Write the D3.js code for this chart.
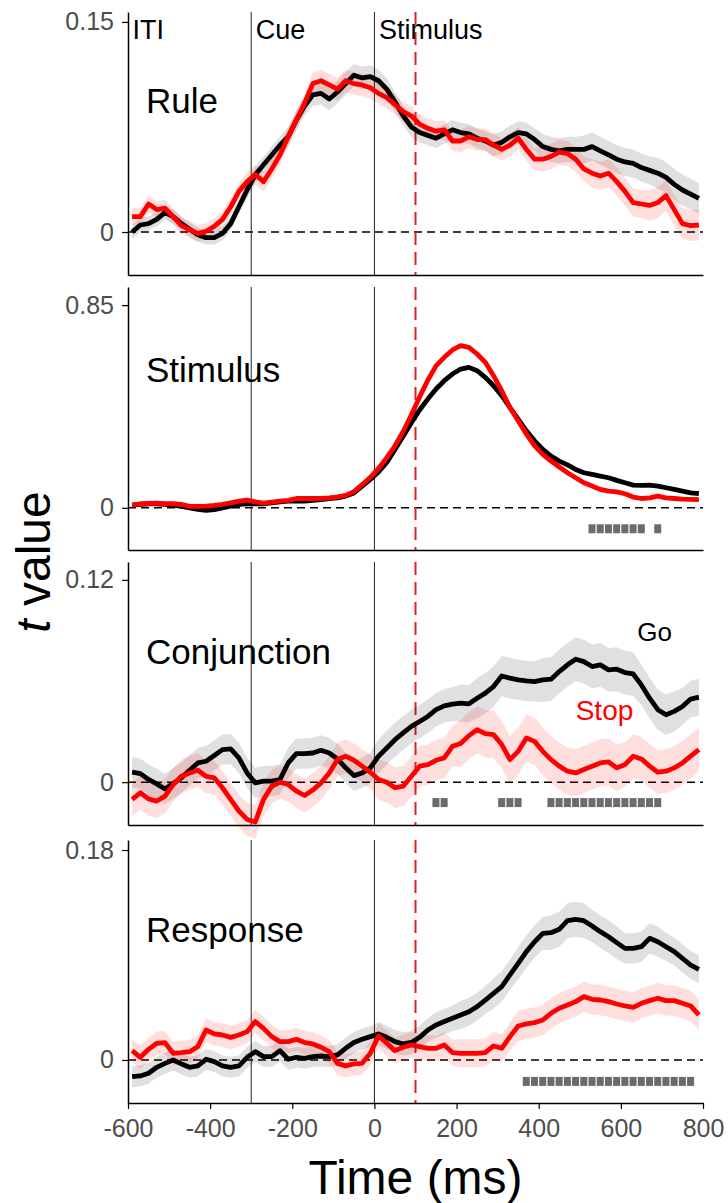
<!DOCTYPE html>
<html>
<head>
<meta charset="utf-8">
<script src="https://cdn.jsdelivr.net/npm/d3@7"></script>
<style>
  body { margin: 0; background: #fff; }
  svg { display: block; font-family: "Liberation Sans", Arial, Helvetica, sans-serif; }
</style>
</head>
<body>
<div id="chart"></div>
<script>
// time bins (ms)
const times = [
  -590, -570, -550, -530, -510, -490, -470, -450, -430, -410,
  -390, -370, -350, -330, -310, -290, -270, -250, -230, -210,
  -190, -170, -150, -130, -110, -90, -70, -50, -30, -10,
  10, 30, 50, 70, 90, 110, 130, 150, 170, 190,
  210, 230, 250, 270, 290, 310, 330, 350, 370, 390,
  410, 430, 450, 470, 490, 510, 530, 550, 570, 590,
  610, 630, 650, 670, 690, 710, 730, 750, 770, 790
];

const panelNames = ['Rule', 'Stimulus', 'Conjunction', 'Response'];
const yTopTicks = [0.15, 0.85, 0.12, 0.18];
const xTicks = [-600, -400, -200, 0, 200, 400, 600, 800];
const eventTimes = [-300, 0];
const eventNames = ['ITI', 'Cue', 'Stimulus'];
const eventStarts = [-600, -300, 0];
const ssdTime = 100;

// Rule
const ruleGo = [
  0.000, 0.005, 0.006, 0.009, 0.014, 0.011, 0.006, 0.002, -0.002, -0.004,
  -0.004, -0.001, 0.006, 0.018, 0.030, 0.041, 0.048, 0.055, 0.062, 0.068,
  0.080, 0.090, 0.098, 0.099, 0.095, 0.100, 0.106, 0.112, 0.110, 0.111,
  0.108, 0.102, 0.093, 0.083, 0.075, 0.071, 0.069, 0.067, 0.070, 0.073,
  0.071, 0.070, 0.067, 0.065, 0.062, 0.064, 0.068, 0.071, 0.070, 0.066,
  0.061, 0.059, 0.058, 0.059, 0.059, 0.059, 0.061, 0.058, 0.055, 0.052,
  0.050, 0.049, 0.046, 0.044, 0.042, 0.039, 0.034, 0.030, 0.027, 0.024
];
const ruleStop = [
  0.011, 0.011, 0.020, 0.016, 0.017, 0.011, 0.0045, 0.0017, -0.001, 0.0005,
  0.004, 0.009, 0.018, 0.029, 0.036, 0.041, 0.036, 0.045, 0.055, 0.068,
  0.080, 0.092, 0.106, 0.108, 0.105, 0.102, 0.108, 0.106, 0.105, 0.103,
  0.099, 0.096, 0.091, 0.086, 0.083, 0.077, 0.074, 0.072, 0.073, 0.065,
  0.065, 0.068, 0.066, 0.066, 0.062, 0.059, 0.062, 0.067, 0.059, 0.052,
  0.052, 0.054, 0.057, 0.056, 0.052, 0.045, 0.042, 0.040, 0.042, 0.036,
  0.029, 0.021, 0.020, 0.019, 0.021, 0.026, 0.016, 0.006, 0.0045, 0.005
];
const ruleGoSe = [
  0.005, 0.005, 0.005, 0.005, 0.005, 0.005, 0.005, 0.005, 0.005, 0.005,
  0.005, 0.005, 0.005, 0.005, 0.006, 0.006, 0.006, 0.006, 0.006, 0.007,
  0.007, 0.007, 0.008, 0.008, 0.008, 0.008, 0.008, 0.008, 0.008, 0.008,
  0.008, 0.008, 0.007, 0.007, 0.007, 0.007, 0.007, 0.007, 0.007, 0.007,
  0.007, 0.007, 0.007, 0.007, 0.008, 0.008, 0.008, 0.008, 0.008, 0.008,
  0.009, 0.009, 0.009, 0.009, 0.009, 0.010, 0.010, 0.010, 0.010, 0.010,
  0.010, 0.010, 0.010, 0.010, 0.011, 0.011, 0.011, 0.011, 0.011, 0.011
];
const ruleStopSe = [
  0.006, 0.006, 0.006, 0.006, 0.006, 0.006, 0.006, 0.006, 0.006, 0.006,
  0.006, 0.006, 0.006, 0.006, 0.007, 0.007, 0.007, 0.007, 0.007, 0.007,
  0.007, 0.007, 0.008, 0.008, 0.008, 0.008, 0.008, 0.008, 0.008, 0.008,
  0.008, 0.008, 0.007, 0.007, 0.007, 0.007, 0.007, 0.007, 0.007, 0.007,
  0.008, 0.008, 0.008, 0.008, 0.008, 0.008, 0.008, 0.008, 0.008, 0.008,
  0.009, 0.009, 0.009, 0.009, 0.009, 0.009, 0.010, 0.010, 0.010, 0.010,
  0.010, 0.010, 0.010, 0.011, 0.011, 0.011, 0.011, 0.011, 0.011, 0.011
];

// Stimulus
const stimGo = [
  0.011, 0.014, 0.017, 0.017, 0.014, 0.011, 0.006, 0.000, -0.007, -0.011,
  -0.008, 0.000, 0.007, 0.014, 0.017, 0.017, 0.017, 0.021, 0.025, 0.028,
  0.028, 0.028, 0.031, 0.034, 0.038, 0.042, 0.049, 0.062, 0.091, 0.119,
  0.150, 0.190, 0.245, 0.300, 0.357, 0.410, 0.456, 0.498, 0.533, 0.561,
  0.582, 0.589, 0.575, 0.547, 0.512, 0.470, 0.420, 0.372, 0.323, 0.281,
  0.245, 0.217, 0.196, 0.180, 0.161, 0.147, 0.140, 0.133, 0.126, 0.115,
  0.105, 0.095, 0.094, 0.095, 0.091, 0.084, 0.077, 0.070, 0.063, 0.059
];
const stimStop = [
  0.011, 0.017, 0.018, 0.020, 0.017, 0.017, 0.014, 0.006, 0.006, 0.007,
  0.010, 0.014, 0.021, 0.028, 0.032, 0.025, 0.020, 0.024, 0.028, 0.031,
  0.039, 0.039, 0.039, 0.039, 0.042, 0.046, 0.052, 0.068, 0.097, 0.128,
  0.165, 0.210, 0.260, 0.320, 0.390, 0.465, 0.535, 0.595, 0.631, 0.662,
  0.680, 0.673, 0.645, 0.610, 0.554, 0.491, 0.420, 0.365, 0.309, 0.260,
  0.224, 0.196, 0.171, 0.147, 0.126, 0.105, 0.091, 0.077, 0.070, 0.067,
  0.059, 0.045, 0.039, 0.042, 0.049, 0.042, 0.039, 0.036, 0.035, 0.034
];
const stimGoSe = [
  0.006, 0.006, 0.006, 0.006, 0.006, 0.006, 0.006, 0.006, 0.006, 0.006,
  0.006, 0.006, 0.006, 0.006, 0.006, 0.006, 0.006, 0.006, 0.006, 0.006,
  0.006, 0.006, 0.006, 0.006, 0.006, 0.006, 0.006, 0.006, 0.006, 0.006,
  0.006, 0.006, 0.007, 0.007, 0.008, 0.008, 0.009, 0.009, 0.009, 0.009,
  0.009, 0.009, 0.009, 0.009, 0.009, 0.008, 0.008, 0.008, 0.007, 0.007,
  0.006, 0.006, 0.006, 0.006, 0.006, 0.006, 0.006, 0.006, 0.006, 0.006,
  0.006, 0.006, 0.006, 0.006, 0.006, 0.006, 0.006, 0.006, 0.006, 0.006
];
const stimStopSe = [
  0.006, 0.006, 0.006, 0.006, 0.006, 0.006, 0.006, 0.006, 0.006, 0.006,
  0.006, 0.006, 0.006, 0.006, 0.006, 0.006, 0.006, 0.006, 0.006, 0.006,
  0.006, 0.006, 0.006, 0.006, 0.006, 0.006, 0.006, 0.006, 0.006, 0.006,
  0.006, 0.006, 0.007, 0.007, 0.008, 0.008, 0.009, 0.009, 0.010, 0.010,
  0.010, 0.010, 0.009, 0.009, 0.009, 0.008, 0.008, 0.008, 0.007, 0.007,
  0.006, 0.006, 0.006, 0.006, 0.006, 0.006, 0.006, 0.006, 0.006, 0.006,
  0.006, 0.006, 0.006, 0.006, 0.006, 0.006, 0.006, 0.006, 0.006, 0.006
];

// Conjunction
const conjGo = [
  0.0059, 0.0051, 0.0016, -0.0010, -0.0040, -0.0008, 0.0026, 0.0071, 0.0114, 0.0124,
  0.0158, 0.0193, 0.0197, 0.0144, 0.0055, -0.0004, 0.0006, 0.0006, 0.0016, 0.0114,
  0.0169, 0.0169, 0.0173, 0.0189, 0.0173, 0.0138, 0.0085, 0.0039, 0.0055, 0.0085,
  0.0154, 0.0203, 0.0252, 0.0292, 0.0331, 0.0360, 0.0390, 0.0430, 0.0453, 0.0463,
  0.0469, 0.0465, 0.0498, 0.0528, 0.0567, 0.0630, 0.0617, 0.0607, 0.0601, 0.0597,
  0.0607, 0.0611, 0.0656, 0.0696, 0.0729, 0.0715, 0.0686, 0.0696, 0.0666, 0.0670,
  0.0650, 0.0642, 0.0577, 0.0498, 0.0430, 0.0400, 0.0420, 0.0449, 0.0493, 0.0504
];
const conjStop = [
  -0.0102, -0.0063, -0.0099, -0.0112, -0.0083, -0.0014, 0.0035, 0.0055, 0.0071, 0.0035,
  0.0026, -0.0033, -0.0102, -0.0171, -0.0221, -0.0236, -0.0102, -0.0024, 0.0000, -0.0014,
  -0.0053, -0.0079, -0.0047, -0.0004, 0.0055, 0.0134, 0.0154, 0.0130, 0.0095, 0.0059,
  0.0016, 0.0000, -0.0033, -0.0024, 0.0035, 0.0095, 0.0104, 0.0130, 0.0144, 0.0213,
  0.0229, 0.0276, 0.0311, 0.0288, 0.0282, 0.0223, 0.0134, 0.0183, 0.0262, 0.0242,
  0.0183, 0.0134, 0.0095, 0.0065, 0.0055, 0.0075, 0.0095, 0.0114, 0.0120, 0.0085,
  0.0104, 0.0154, 0.0138, 0.0095, 0.0059, 0.0065, 0.0085, 0.0114, 0.0154, 0.0193
];
const conjGoSe = [
  0.009, 0.009, 0.009, 0.009, 0.009, 0.009, 0.009, 0.009, 0.009, 0.009,
  0.009, 0.009, 0.009, 0.009, 0.009, 0.009, 0.009, 0.009, 0.009, 0.009,
  0.009, 0.009, 0.009, 0.009, 0.009, 0.009, 0.009, 0.009, 0.009, 0.009,
  0.010, 0.010, 0.010, 0.010, 0.010, 0.010, 0.010, 0.010, 0.010, 0.010,
  0.011, 0.011, 0.012, 0.012, 0.012, 0.012, 0.012, 0.012, 0.012, 0.012,
  0.013, 0.013, 0.013, 0.013, 0.013, 0.013, 0.013, 0.013, 0.013, 0.013,
  0.013, 0.013, 0.012, 0.012, 0.012, 0.012, 0.012, 0.011, 0.011, 0.011
];
const conjStopSe = [
  0.010, 0.010, 0.010, 0.010, 0.010, 0.010, 0.010, 0.010, 0.010, 0.010,
  0.010, 0.010, 0.010, 0.010, 0.010, 0.010, 0.010, 0.010, 0.010, 0.010,
  0.010, 0.010, 0.010, 0.010, 0.010, 0.010, 0.010, 0.010, 0.010, 0.010,
  0.012, 0.012, 0.012, 0.012, 0.012, 0.012, 0.012, 0.012, 0.012, 0.012,
  0.014, 0.014, 0.014, 0.014, 0.014, 0.014, 0.014, 0.014, 0.014, 0.014,
  0.014, 0.014, 0.014, 0.014, 0.014, 0.014, 0.014, 0.014, 0.014, 0.014,
  0.013, 0.013, 0.013, 0.013, 0.013, 0.013, 0.013, 0.013, 0.013, 0.013
];

// Response
const respGo = [
  -0.0143, -0.0137, -0.0114, -0.0063, -0.0029, 0.0000, -0.0034, -0.0063, -0.0051, 0.0006,
  -0.0014, -0.0051, -0.0063, -0.0051, 0.0023, 0.0071, 0.0029, 0.0029, 0.0080, 0.0006,
  0.0023, 0.0014, 0.0029, 0.0034, 0.0029, 0.0043, 0.0100, 0.0149, 0.0177, 0.0200,
  0.0223, 0.0194, 0.0157, 0.0137, 0.0150, 0.0194, 0.0257, 0.0300, 0.0329, 0.0357,
  0.0386, 0.0414, 0.0457, 0.0514, 0.0571, 0.0629, 0.0729, 0.0829, 0.0929, 0.1014,
  0.1086, 0.1091, 0.1120, 0.1194, 0.1206, 0.1194, 0.1149, 0.1100, 0.1057, 0.1006,
  0.0957, 0.0957, 0.0971, 0.1043, 0.1014, 0.0971, 0.0929, 0.0871, 0.0814, 0.0777
];
const respStop = [
  0.0080, 0.0023, 0.0091, 0.0143, 0.0149, 0.0057, 0.0063, 0.0071, 0.0114, 0.0257,
  0.0223, 0.0214, 0.0194, 0.0214, 0.0243, 0.0329, 0.0271, 0.0200, 0.0157, 0.0157,
  0.0177, 0.0149, 0.0137, 0.0109, 0.0071, -0.0029, -0.0051, -0.0034, -0.0029, 0.0057,
  0.0206, 0.0143, 0.0080, 0.0109, 0.0129, 0.0114, 0.0100, 0.0100, 0.0129, 0.0063,
  0.0057, 0.0057, 0.0057, 0.0063, 0.0120, 0.0100, 0.0200, 0.0291, 0.0309, 0.0320,
  0.0343, 0.0400, 0.0443, 0.0471, 0.0500, 0.0543, 0.0520, 0.0514, 0.0500, 0.0480,
  0.0463, 0.0451, 0.0486, 0.0509, 0.0529, 0.0509, 0.0509, 0.0486, 0.0463, 0.0386
];
const respGoSe = [
  0.009, 0.009, 0.009, 0.009, 0.009, 0.009, 0.009, 0.009, 0.009, 0.009,
  0.009, 0.009, 0.009, 0.009, 0.009, 0.009, 0.009, 0.009, 0.009, 0.009,
  0.009, 0.009, 0.009, 0.009, 0.009, 0.009, 0.009, 0.009, 0.009, 0.009,
  0.010, 0.010, 0.010, 0.010, 0.010, 0.010, 0.010, 0.011, 0.011, 0.011,
  0.012, 0.012, 0.012, 0.012, 0.013, 0.013, 0.013, 0.014, 0.014, 0.014,
  0.014, 0.015, 0.015, 0.015, 0.015, 0.015, 0.014, 0.014, 0.014, 0.014,
  0.013, 0.013, 0.013, 0.013, 0.013, 0.012, 0.012, 0.012, 0.012, 0.012
];
const respStopSe = [
  0.010, 0.010, 0.010, 0.010, 0.010, 0.010, 0.010, 0.010, 0.010, 0.010,
  0.010, 0.010, 0.010, 0.010, 0.010, 0.010, 0.010, 0.010, 0.010, 0.010,
  0.010, 0.010, 0.010, 0.010, 0.010, 0.010, 0.010, 0.010, 0.010, 0.010,
  0.011, 0.011, 0.011, 0.011, 0.011, 0.011, 0.011, 0.011, 0.011, 0.011,
  0.012, 0.012, 0.012, 0.012, 0.012, 0.012, 0.012, 0.013, 0.013, 0.013,
  0.013, 0.013, 0.013, 0.013, 0.013, 0.013, 0.013, 0.013, 0.013, 0.013,
  0.013, 0.013, 0.013, 0.013, 0.013, 0.013, 0.013, 0.013, 0.013, 0.013
];

// significant Go vs Stop bins (ms) and the level they are drawn at
const stimSig = [530, 550, 570, 590, 610, 630, 650, 690];
const conjSig = [150, 170, 310, 330, 350, 430, 450, 470, 490, 510, 530, 550, 570, 590, 610, 630, 650, 670, 690];
const respSig = [370, 390, 410, 430, 450, 470, 490, 510, 530, 550, 570, 590, 610, 630, 650, 670, 690, 710, 730, 750, 770];
const sigLevels = [null, -0.088, -0.0121, -0.0184];

// y ranges shown in each panel
const yDomains = [[-0.0307, 0.1571], [-0.177, 0.926], [-0.0254, 0.1306], [-0.0369, 0.1886]];

const panels = [
  { go: ruleGo, goSe: ruleGoSe, stop: ruleStop, stopSe: ruleStopSe, sig: [] },
  { go: stimGo, goSe: stimGoSe, stop: stimStop, stopSe: stimStopSe, sig: stimSig },
  { go: conjGo, goSe: conjGoSe, stop: conjStop, stopSe: conjStopSe, sig: conjSig },
  { go: respGo, goSe: respGoSe, stop: respStop, stopSe: respStopSe, sig: respSig }
];

// layout
const width = 728;
const height = 1203;
const panelTops = [12, 287, 562, 840];
const panelHeight = 263;
const labelOffsets = [101, 95, 102, 102];
const goColor = '#000000';
const stopColor = '#ff0000';
const fontFamily = '"Liberation Sans", Arial, Helvetica, sans-serif';

const svg = d3.select('#chart')
  .append('svg')
  .attr('width', width)
  .attr('height', height);

const x = d3.scaleLinear()
  .domain([-600, 800])
  .range([128, 703]);

panels.forEach((p, i) => {
  const top = panelTops[i];
  const bottom = top + panelHeight;
  const y = d3.scaleLinear()
    .domain(yDomains[i])
    .range([bottom, top]);

  const g = svg.append('g');

  // zero reference
  g.append('line')
    .attr('x1', x(-600)).attr('x2', x(800))
    .attr('y1', y(0)).attr('y2', y(0))
    .attr('stroke', '#000')
    .attr('stroke-width', 1.5)
    .attr('stroke-dasharray', '8,5');

  // cue / stimulus onsets
  eventTimes.forEach(t => {
    g.append('line')
      .attr('x1', x(t)).attr('x2', x(t))
      .attr('y1', top).attr('y2', bottom)
      .attr('stroke', '#222')
      .attr('stroke-width', 1);
  });

  // stop signal delay
  g.append('line')
    .attr('x1', x(ssdTime)).attr('x2', x(ssdTime))
    .attr('y1', top).attr('y2', bottom)
    .attr('stroke', '#dd2222')
    .attr('stroke-width', 2)
    .attr('stroke-dasharray', '13,7');

  const band = (vals, se) => d3.area()
    .x((d, j) => x(times[j]))
    .y0((d, j) => y(vals[j] - se[j]))
    .y1((d, j) => y(vals[j] + se[j]));

  const line = d3.line()
    .x((d, j) => x(times[j]))
    .y(d => y(d));

  g.append('path')
    .datum(p.go)
    .attr('fill', goColor)
    .attr('fill-opacity', 0.12)
    .attr('d', band(p.go, p.goSe));

  g.append('path')
    .datum(p.stop)
    .attr('fill', stopColor)
    .attr('fill-opacity', 0.13)
    .attr('d', band(p.stop, p.stopSe));

  g.append('path')
    .datum(p.go)
    .attr('fill', 'none')
    .attr('stroke', goColor)
    .attr('stroke-width', 4.8)
    .attr('stroke-linejoin', 'round')
    .attr('d', line);

  g.append('path')
    .datum(p.stop)
    .attr('fill', 'none')
    .attr('stroke', stopColor)
    .attr('stroke-width', 4.8)
    .attr('stroke-linejoin', 'round')
    .attr('d', line);

  // significance markers
  g.selectAll('rect.sig')
    .data(p.sig)
    .join('rect')
    .attr('class', 'sig')
    .attr('x', t => x(t - 10) + 0.5)
    .attr('width', t => x(t + 10) - x(t - 10) - 1.2)
    .attr('y', () => y(sigLevels[i]) - 4.5)
    .attr('height', 9)
    .attr('fill', '#6b6b6b');

  // y axis
  const yAxis = d3.axisLeft(y)
    .tickValues([0, yTopTicks[i]])
    .tickFormat(d => d === 0 ? '0' : String(d))
    .tickSize(6)
    .tickSizeOuter(0)
    .tickPadding(8);

  const ya = g.append('g')
    .attr('transform', `translate(${x(-600)},0)`)
    .call(yAxis)
    .attr('font-family', fontFamily);
  ya.select('.domain').attr('stroke', '#000').attr('stroke-width', 1.5);
  ya.selectAll('.tick line').attr('stroke', '#000').attr('stroke-width', 1.2);
  ya.selectAll('.tick text')
    .attr('fill', '#4d4d4d')
    .style('font-size', '25px');

  // x axis
  const xAxis = d3.axisBottom(x)
    .tickValues(i === 3 ? xTicks : [])
    .tickFormat(d => String(d))
    .tickSize(6)
    .tickSizeOuter(0)
    .tickPadding(10);

  const xa = g.append('g')
    .attr('transform', `translate(0,${bottom})`)
    .call(xAxis)
    .attr('font-family', fontFamily);
  xa.select('.domain').attr('stroke', '#000').attr('stroke-width', 1.5);
  xa.selectAll('.tick line').attr('stroke', '#000').attr('stroke-width', 1.2);
  xa.selectAll('.tick text')
    .attr('fill', '#4d4d4d')
    .style('font-size', '25px');

  // panel name
  g.append('text')
    .attr('x', 146)
    .attr('y', top + labelOffsets[i])
    .style('font-size', '35px')
    .attr('fill', '#000')
    .text(panelNames[i]);
});

// epoch names in top panel
svg.selectAll('text.epoch')
  .data(eventNames)
  .join('text')
  .attr('class', 'epoch')
  .attr('x', (d, k) => x(eventStarts[k]) + 4.5)
  .attr('y', panelTops[0] + 27)
  .style('font-size', '27px')
  .attr('fill', '#000')
  .text(d => d);

// Go / Stop labels in conjunction panel
const yConj = d3.scaleLinear().domain(yDomains[2]).range([panelTops[2] + panelHeight, panelTops[2]]);
svg.append('text')
  .attr('x', x(640))
  .attr('y', yConj(0.084))
  .style('font-size', '26px')
  .attr('fill', goColor)
  .text('Go');
svg.append('text')
  .attr('x', x(490))
  .attr('y', yConj(0.0367))
  .style('font-size', '28px')
  .attr('fill', stopColor)
  .text('Stop');

// axis titles
const yTitle = svg.append('text')
  .attr('transform', 'translate(50,562) rotate(-90)')
  .attr('text-anchor', 'middle')
  .style('font-size', '48px')
  .attr('fill', '#000');
yTitle.append('tspan').style('font-style', 'italic').text('t');
yTitle.append('tspan').text(' value');

svg.append('text')
  .attr('x', (x(-600) + x(800)) / 2)
  .attr('y', 1194)
  .attr('text-anchor', 'middle')
  .style('font-size', '48px')
  .attr('fill', '#000')
  .text('Time (ms)');
</script>
</body>
</html>
